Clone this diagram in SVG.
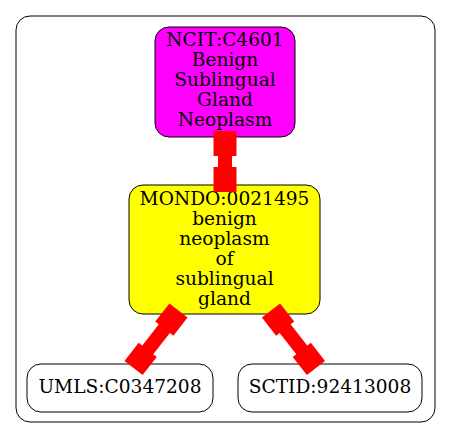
<svg xmlns="http://www.w3.org/2000/svg" width="451" height="439" viewBox="0 0 451 439">
<style>
text{font-family:"DejaVu Serif",serif;font-size:18.6px;text-anchor:middle;fill:#000}
.n{stroke:#000;stroke-width:1}
.e{fill:#ff0000}
</style>
<rect width="451" height="439" fill="#fff"/>
<g id="cluster"><rect x="16" y="16" width="419" height="406" rx="14" fill="none" stroke="#000"/></g>
<g id="ncit">
<rect class="n" x="155" y="27" width="140" height="110" rx="14" fill="#ff00ff"/>
<text x="225" y="46.4">NCIT:C4601</text>
<text x="225" y="66.3">Benign</text>
<text x="225" y="86.3">Sublingual</text>
<text x="225" y="106.2">Gland</text>
<text x="225" y="126.2">Neoplasm</text>
</g>
<g id="mondo">
<rect class="n" x="129" y="185" width="191" height="129" rx="14" fill="#ffff00"/>
<text x="224.5" y="205">MONDO:0021495</text>
<text x="224.5" y="225">benign</text>
<text x="224.5" y="245">neoplasm</text>
<text x="224.5" y="265">of</text>
<text x="224.5" y="285">sublingual</text>
<text x="224.5" y="305">gland</text>
</g>
<g id="umls">
<rect class="n" x="27" y="364" width="186" height="48" rx="14" fill="#fff"/>
<text x="120" y="393.3">UMLS:C0347208</text>
</g>
<g id="sctid">
<rect class="n" x="238" y="364" width="184" height="48" rx="14" fill="#fff"/>
<text x="330" y="393">SCTID:92413008</text>
</g>
<g id="connectors" class="e">
<g transform="translate(225,131)">
<rect x="-11.5" y="0" width="23" height="25"/><rect x="-7" y="24" width="14" height="13"/><rect x="-11.5" y="36" width="23" height="25"/>
</g>
<g transform="translate(178.5,310.5) rotate(38)">
<rect x="-11.5" y="0" width="23" height="23"/><rect x="-7" y="22" width="14" height="30"/><rect x="-11.5" y="50" width="23" height="23"/>
</g>
<g transform="translate(271,310.5) rotate(-38)">
<rect x="-11.5" y="0" width="23" height="23"/><rect x="-7" y="22" width="14" height="30"/><rect x="-11.5" y="50" width="23" height="23"/>
</g>
</g>
</svg>
